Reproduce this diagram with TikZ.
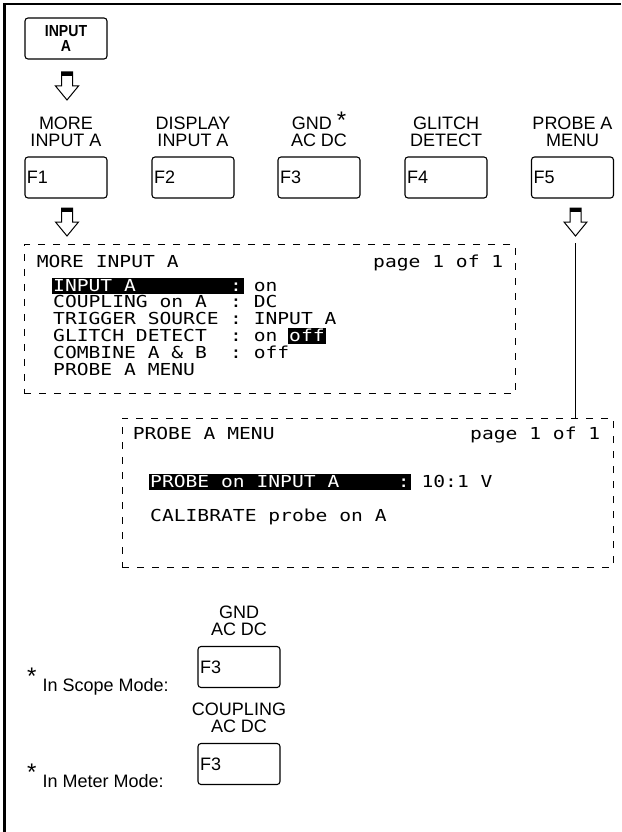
\documentclass[tikz,border=0pt]{standalone}
\usepackage{fontspec}
\setmainfont{Liberation Sans}
\newfontfamily\lcdfont[FakeStretch=1.19]{DejaVu Sans Mono}
\newfontfamily\keyfont[FakeStretch=0.88]{Liberation Sans}
\usetikzlibrary{positioning, calc}
\newlength{\chw}
\setlength{\chw}{11.8pt}
\newcommand{\lcdcol}[2]{\makebox[#1\chw][l]{#2}}
\newcommand{\hl}[2]{\makebox[0pt][l]{\hspace{-1.5pt}\rule[-2.5pt]{\dimexpr#1\chw+3pt\relax}{16pt}}\textcolor{white}{\lcdcol{#1}{#2}}}
\newcommand{\bigast}[1]{\raisebox{#1}{\fontsize{24pt}{24pt}\selectfont *}}
\newcommand{\hollowarrow}[1]{%
    \fill (#1) ++(-5.5,0) rectangle ++(11,4);
    \draw[line width=1pt] (#1) ++(-5.5,0) -- ++(0,14) -- ++(-6,0) -- ++(11.5,14) -- ++(11.5,-14) -- ++(-6,0) -- ++(0,-14) -- cycle;
}

\begin{document}
\begin{tikzpicture}[x=1pt, y=-1pt,
    fkey/.style={draw, line width=1.1pt, rounded corners=3pt, minimum height=41pt,
                 text width=78pt, inner xsep=2pt, align=left, font=\fontsize{18pt}{18pt}\selectfont},
    keylabel/.style={align=center, inner sep=0pt, font=\fontsize{18pt}{17pt}\selectfont},
    lcdbox/.style={draw, dash pattern=on 7pt off 8pt, line width=0.9pt,
                   minimum width=491pt, minimum height=149pt},
    lcd/.style={font=\lcdfont\fontsize{16.5pt}{18pt}\selectfont, inner sep=0pt, anchor=base west},
    note/.style={anchor=base west, inner sep=0pt, font=\fontsize{18pt}{18pt}\selectfont}
]
    \useasboundingbox (0,0) rectangle (621,832);
    \draw[line width=2.3pt] (4.5,832) -- (4.5,4.2) -- (621,4.2);

    % input key
    \node[fkey, align=center, font=\keyfont\bfseries\fontsize{16pt}{15pt}\selectfont] (inA) at (66,38.5) {INPUT\\A};
    \hollowarrow{67,72}

    % soft keys
    \node[fkey] (f1) at (66,177.5) {F1};
    \node[fkey] (f2) at (193,177.5) {F2};
    \node[fkey] (f3) at (319,177.5) {F3};
    \node[fkey] (f4) at (446,177.5) {F4};
    \node[fkey] (f5) at (572.5,177.5) {F5};

    \node[keylabel, above=10pt of f1] (l1) {MORE\\INPUT A};
    \node[keylabel, above=10pt of f2] (l2) {DISPLAY\\INPUT A};
    \node[keylabel, above=10pt of f3] (l3) {GND~\bigast{1pt}\\AC DC};
    \node[keylabel, above=10pt of f4] (l4) {GLITCH\\DETECT};
    \node[keylabel, above=10pt of f5] (l5) {PROBE A\\MENU};

    \hollowarrow{67,208}
    \hollowarrow{575.5,208}

    % more input A screen
    \node[lcdbox] (more) at (269.5,319.25) {};
    \node[lcd] (moret) at ($(more.north west)+(13,23.5)$) {MORE INPUT A};
    \node[lcd, anchor=base east] (morep) at ($(more.north east)+(-12,23.5)$) {page 1 of 1};
    \node[lcd] (m1) at (53,291) {\hl{16}{\lcdcol{15}{INPUT A}:}\hspace{\chw}on};
    \node[lcd] (m2) at (53,307.8) {\lcdcol{15}{COUPLING on A}\lcdcol{2}{:}DC};
    \node[lcd] (m3) at (53,324.6) {\lcdcol{15}{TRIGGER SOURCE}\lcdcol{2}{:}INPUT A};
    \node[lcd] (m4) at (53,341.4) {\lcdcol{15}{GLITCH DETECT}\lcdcol{2}{:}\lcdcol{3}{on}\hl{3}{off}};
    \node[lcd] (m5) at (53,358.2) {\lcdcol{15}{COMBINE A \& B}\lcdcol{2}{:}off};
    \node[lcd] (m6) at (53,375) {PROBE A MENU};

    % probe A screen
    \node[lcdbox] (probe) at (367.5,492.5) {};
    \node[lcd] (probet) at ($(probe.north west)+(11,22)$) {PROBE A MENU};
    \node[lcd, anchor=base east] (probep) at ($(probe.north east)+(-13,22)$) {page 1 of 1};
    \node[lcd] (p1) at (150,487) {\hl{22}{\lcdcol{21}{PROBE on INPUT A}:}\hspace{\chw}10:1 V};
    \node[lcd] (p2) at (150,521) {CALIBRATE probe on A};

    \coordinate (a5) at (575.5,243);
    \draw[line width=1.5pt] (a5) -- (a5 |- probe.north);

    % footnotes
    \node[fkey] (f3s) at (239,667) {F3};
    \node[keylabel, above=10pt of f3s] (l3s) {GND\\AC DC};
    \node[note] (scope) at (27,691) {\bigast{7pt}\hspace{6pt}In Scope Mode:};
    \node[fkey] (f3m) at (239,764) {F3};
    \node[keylabel, above=10pt of f3m] (l3m) {COUPLING\\AC DC};
    \node[note] (meter) at (27,787) {\bigast{7pt}\hspace{6pt}In Meter Mode:};
\end{tikzpicture}
\end{document}
